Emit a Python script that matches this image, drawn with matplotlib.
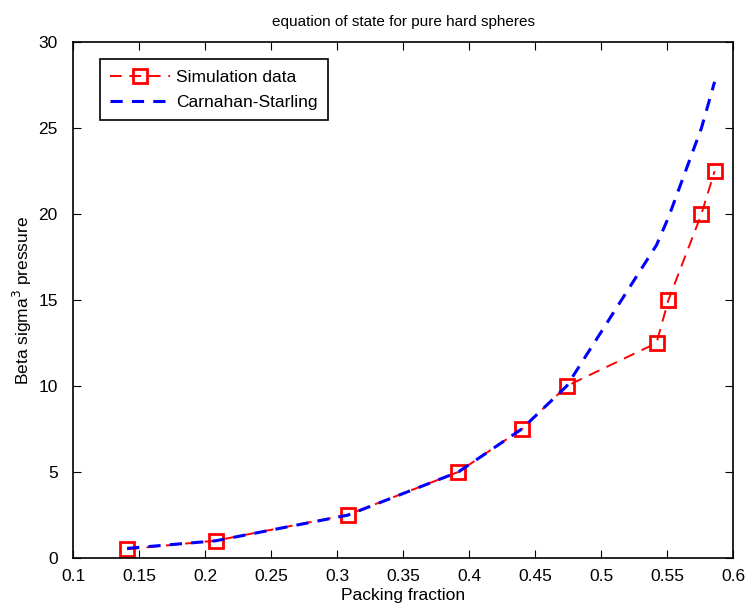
import numpy as np
import matplotlib
matplotlib.use('Agg')
import matplotlib.pyplot as plt

plt.rcParams['font.family'] = ['Liberation Sans', 'DejaVu Sans']

# packing fractions of the simulation runs
eta = [0.141, 0.208, 0.308, 0.392, 0.440, 0.474, 0.542, 0.551, 0.576, 0.586]
p_sim = [0.5, 1.0, 2.5, 5.0, 7.5, 10.0, 12.5, 15.0, 20.0, 22.5]
p_cs = [0.55, 0.99, 2.48, 5.0, 7.5, 10.0, 18.2, 19.8, 25.0, 27.7]

xticks = [0.1, 0.15, 0.2, 0.25, 0.3, 0.35, 0.4, 0.45, 0.5, 0.55, 0.6]
yticks = [0, 5, 10, 15, 20, 25, 30]

fig = plt.figure(figsize=(7.45, 6.13), dpi=100)
ax = fig.add_axes([0.098, 0.09, 0.886, 0.841])

ax.plot(eta, p_sim, '--', color='red', lw=1.4, marker='s', ms=9.5,
        mfc='none', mec='red', mew=2, dashes=(6, 4), label='Simulation data')
ax.plot(eta, p_cs, '--', color='blue', lw=2.2, dashes=(4, 3),
        label='Carnahan-Starling')

ax.set_xlim(0.1, 0.6)
ax.set_ylim(0, 30)
ax.set_xticks(xticks)
ax.set_xticklabels([('%g' % t) for t in xticks])
ax.set_yticks(yticks)
ax.tick_params(direction='in', top=True, right=True, labelsize=12.5, length=6)
ax.tick_params(axis='x', pad=8)
ax.tick_params(axis='y', pad=11)
for s in ax.spines.values():
    s.set_linewidth(1.2)

ax.set_xlabel('Packing fraction', fontsize=12.5, labelpad=3)
ax.set_ylabel(r'Beta sigma$^3$ pressure', fontsize=12.5, labelpad=3)
ax.set_title('equation of state for pure hard spheres', fontsize=11, pad=12)

leg = ax.legend(loc='upper left', fontsize=12.5, fancybox=False, framealpha=1,
                edgecolor='black', borderaxespad=0, borderpad=0.6,
                labelspacing=0.55, handlelength=3.4, handletextpad=0.4,
                bbox_to_anchor=(0.041, 0.967))
leg.get_frame().set_linewidth(1.2)

fig.savefig('out.png', dpi=100)
